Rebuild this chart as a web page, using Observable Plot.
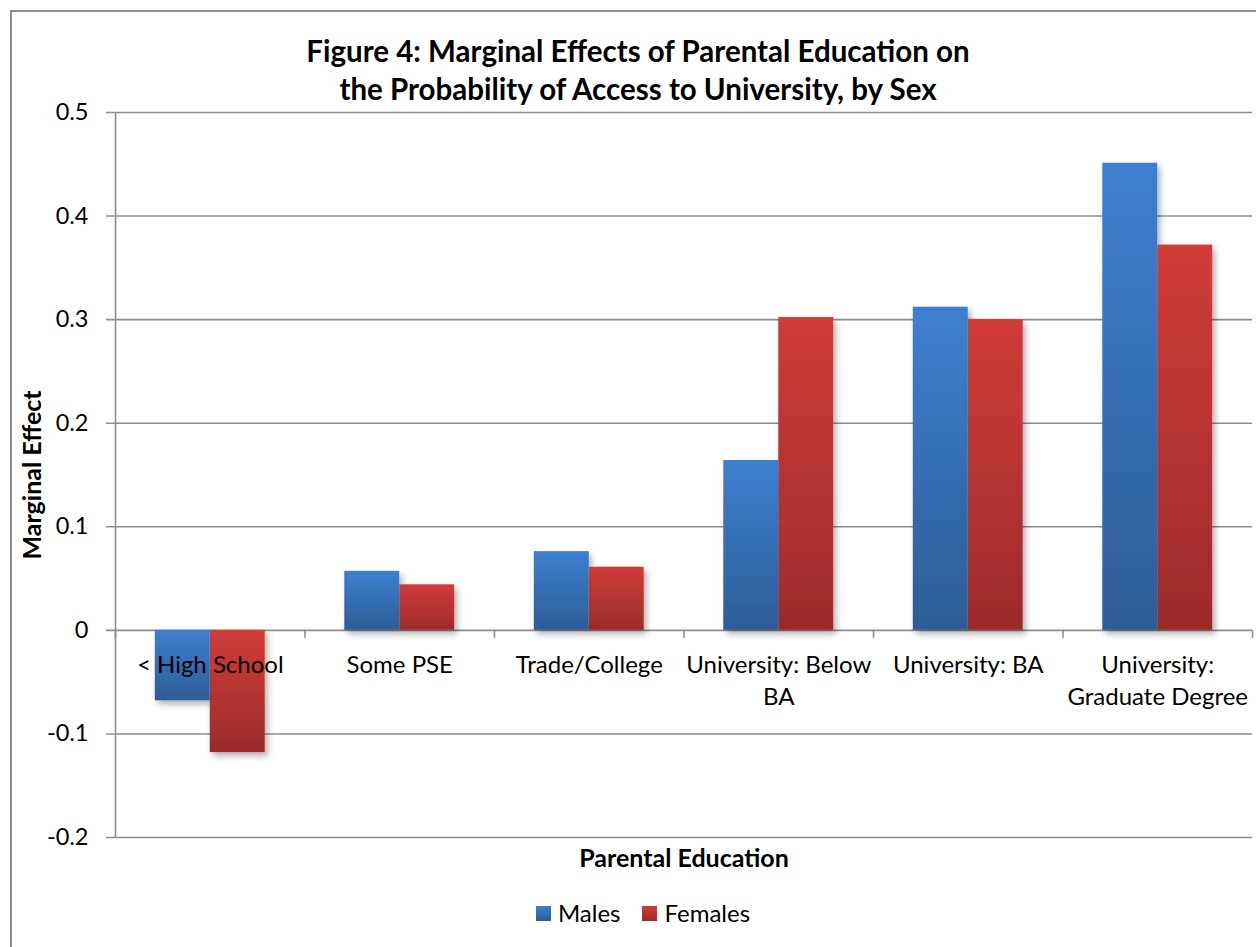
<!DOCTYPE html>
<html>
<head>
<meta charset="utf-8">
<script src="https://cdn.jsdelivr.net/npm/d3@7"></script>
<script src="https://cdn.jsdelivr.net/npm/@observablehq/plot@0.6"></script>
<style>
  html, body { margin: 0; padding: 0; background: #fff; overflow: hidden; }
  body { width: 1256px; height: 947px; position: relative; font-family: Lato, "Open Sans", sans-serif; color: #000; }
  #frame { position: absolute; left: 10px; top: 10px; width: 1262px; height: 960px; border: 2px solid #8f8f8f; box-sizing: border-box; }
  #title { position: absolute; left: 10px; width: 1256px; top: 32px; text-align: center; font-weight: bold; font-size: 29.5px; line-height: 38px; }
  #chart { position: absolute; left: 0; top: 92px; }
  #legend { position: absolute; top: 898px; left: 0; width: 1286px; display: flex; justify-content: center; gap: 22px; font-size: 24px; line-height: 30px; }
  #legend .item { display: flex; align-items: center; gap: 7px; }
  #legend .sw { width: 15px; height: 15px; display: inline-block; }
</style>
</head>
<body>
<div id="frame"></div>
<div id="title">Figure 4: Marginal Effects of Parental Education on<br>the Probability of Access to University, by Sex</div>
<div id="chart"></div>
<div id="legend"></div>
<svg width="0" height="0" style="position:absolute">
  <defs>
    <linearGradient id="grad-males" x1="0" y1="0" x2="0" y2="1">
      <stop offset="0" stop-color="#3d80d0"/>
      <stop offset="1" stop-color="#2d5c98"/>
    </linearGradient>
    <linearGradient id="grad-females" x1="0" y1="0" x2="0" y2="1">
      <stop offset="0" stop-color="#d03c38"/>
      <stop offset="1" stop-color="#9c2b2b"/>
    </linearGradient>
    <filter id="bar-shadow" x="-20%" y="-20%" width="150%" height="150%">
      <feDropShadow dx="3" dy="4" stdDeviation="3" flood-color="#000" flood-opacity="0.3"/>
    </filter>
  </defs>
</svg>
<script>
// Parental education categories (line breaks as they wrap under the axis)
const categories = [
  "< High School",
  "Some PSE",
  "Trade/College",
  "University: Below\nBA",
  "University: BA",
  "University:\nGraduate Degree"
];
const seriesNames = ["Males", "Females"];
const males = [-0.068, 0.057, 0.076, 0.164, 0.312, 0.451];
const females = [-0.118, 0.044, 0.061, 0.302, 0.300, 0.372];
const yTicks = [-0.2, -0.1, 0, 0.1, 0.2, 0.3, 0.4, 0.5];
const yDomain = [-0.2, 0.5];

const seriesFill = {Males: "url(#grad-males)", Females: "url(#grad-females)"};
const swatchFill = {
  Males: "linear-gradient(#3d80d0, #2d5c98)",
  Females: "linear-gradient(#d03c38, #9c2b2b)"
};

// Each category occupies one unit of x; the two bars sit side by side at its centre
const barHalf = 0.29;
const rows = categories.flatMap((c, i) => [
  {category: c, series: "Males", value: males[i], x1: i + 0.5 - barHalf, x2: i + 0.5},
  {category: c, series: "Females", value: females[i], x1: i + 0.5, x2: i + 0.5 + barHalf}
]);
const boundaries = d3.range(categories.length + 1);
const centres = categories.map((c, i) => ({label: c, x: i + 0.5}));

const grid = "#8e8e8e";

const chart = Plot.plot({
  width: 1256,
  height: 790,
  marginLeft: 115,
  marginRight: 4,
  marginTop: 20,
  marginBottom: 45,
  style: {fontFamily: "Lato, 'Open Sans', sans-serif", fontSize: "24px", color: "#000", background: "transparent"},
  x: {domain: [0, categories.length], axis: null},
  y: {domain: yDomain, ticks: yTicks, axis: null},
  marks: [
    // horizontal gridlines, extended left as tick marks
    Plot.ruleY(yTicks, {stroke: grid, strokeWidth: 1.6, insetLeft: -9}),
    // vertical axis line
    Plot.ruleX([0], {stroke: grid, strokeWidth: 1.6}),
    // y tick labels
    Plot.text(yTicks, {
      x: 0, y: d => d,
      text: d => String(+d.toFixed(1)),
      textAnchor: "end", dx: -27, fill: "#000", fontSize: 23.5
    }),
    // category tick marks hanging below the zero line
    Plot.ruleX(boundaries, {x: d => d, y1: 0, y2: 0, insetBottom: -8, stroke: grid, strokeWidth: 1.6}),
    // bars
    Plot.rectY(rows, {
      x1: "x1", x2: "x2", y1: 0, y2: "value",
      fill: d => seriesFill[d.series]
    }),
    // category labels below the zero line
    Plot.text(centres, {
      x: "x", y: 0, text: "label",
      lineAnchor: "top", dy: 20, lineHeight: 1.33,
      fill: "#000", fontSize: 24
    }),
    // axis titles
    Plot.text(["Marginal Effect"], {
      frameAnchor: "left", dx: -83, rotate: -90,
      textAnchor: "middle", lineAnchor: "middle",
      fontWeight: "bold", fontSize: 25, fill: "#000"
    }),
    Plot.text(["Parental Education"], {
      frameAnchor: "bottom", dy: 21,
      textAnchor: "middle", lineAnchor: "middle",
      fontWeight: "bold", fontSize: 25, fill: "#000"
    })
  ]
});

// soft drop shadow under the bars
chart.querySelectorAll('g[aria-label="rect"]').forEach(g => g.setAttribute("filter", "url(#bar-shadow)"));
document.getElementById("chart").appendChild(chart);

// legend
const legend = document.getElementById("legend");
seriesNames.forEach(name => {
  const item = document.createElement("span");
  item.className = "item";
  const sw = document.createElement("span");
  sw.className = "sw";
  sw.style.background = swatchFill[name];
  const label = document.createElement("span");
  label.textContent = name;
  item.appendChild(sw);
  item.appendChild(label);
  legend.appendChild(item);
});
</script>
</body>
</html>
